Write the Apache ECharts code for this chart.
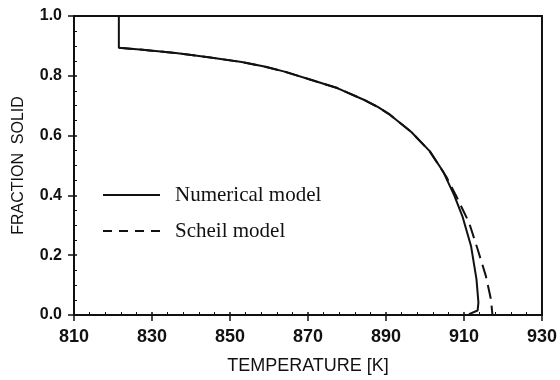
<!DOCTYPE html>
<html><head><meta charset="utf-8">
<script src="https://cdn.jsdelivr.net/npm/echarts@6/dist/echarts.min.js"></script>
<style>html,body{margin:0;padding:0;background:#fff}#c{width:560px;height:380px}</style>
</head><body><div id="c"></div>
<script>
var numT = [821.5, 821.5, 827.6, 836.1, 844.5, 853, 858.5, 864, 870.7, 877.5, 884.3, 888, 891, 896.5, 901.2, 904.6, 907.5, 909.6, 911.8, 913.2, 913.7, 913.5, 911.3];
var numF = [1.0, 0.894, 0.887, 0.876, 0.862, 0.846, 0.832, 0.814, 0.787, 0.759, 0.72, 0.695, 0.67, 0.612, 0.548, 0.481, 0.40, 0.33, 0.231, 0.12, 0.042, 0.015, 0.003];
var schT = [821.5, 827.6, 836.1, 844.5, 853, 858.5, 864, 870.7, 877.5, 884.3, 888, 891, 896.5, 901.2, 905.4, 908, 911.3, 913.5, 915.6, 916.9, 917.3];
var schF = [0.894, 0.887, 0.876, 0.862, 0.846, 0.832, 0.814, 0.787, 0.759, 0.72, 0.695, 0.67, 0.612, 0.548, 0.464, 0.398, 0.309, 0.22, 0.131, 0.053, 0.0];
var xTicks = [810, 830, 850, 870, 890, 910, 930];
var yTicks = [0.0, 0.2, 0.4, 0.6, 0.8, 1.0];
var legendNames = ['Numerical model', 'Scheil model'];

function pairs(a, b) { return a.map(function (v, i) { return [v, b[i]]; }); }

var chart = echarts.init(document.getElementById('c'));
var labelFont = {color: '#111', fontFamily: 'Liberation Sans, Arial, sans-serif', fontWeight: 'bold'};
chart.setOption({
  animation: false,
  backgroundColor: '#fff',
  grid: {left: 74, right: 13, top: 16, bottom: 64, show: true, borderColor: '#111', borderWidth: 2},
  xAxis: [{
    type: 'value', min: xTicks[0], max: xTicks[xTicks.length - 1], interval: 20,
    splitLine: {show: false},
    axisLine: {lineStyle: {color: '#111', width: 2}},
    axisTick: {show: true, inside: false, length: 6, lineStyle: {color: '#111', width: 1.5}},
    axisLabel: Object.assign({fontSize: 18, margin: 13, formatter: function (v) { return xTicks.indexOf(v) >= 0 ? String(v) : ''; }}, labelFont),
    name: 'TEMPERATURE [K]', nameLocation: 'middle', nameGap: 42,
    nameTextStyle: {fontSize: 18, color: '#111', fontFamily: 'Liberation Sans, Arial, sans-serif'}
  }, {
    type: 'value', position: 'bottom', min: xTicks[0], max: xTicks[xTicks.length - 1], interval: 20,
    splitLine: {show: false}, axisLine: {show: false}, axisLabel: {show: false},
    axisTick: {show: true, inside: true, length: 3, lineStyle: {color: '#111', width: 1.5}},
    minorTick: {show: true, splitNumber: 5, length: 3, lineStyle: {color: '#111', width: 1}}
  }],
  yAxis: [{
    type: 'value', min: 0, max: 1, interval: 0.2,
    splitLine: {show: false},
    axisLine: {lineStyle: {color: '#111', width: 2}},
    axisTick: {show: true, inside: false, length: 6, lineStyle: {color: '#111', width: 1.5}},
    axisLabel: Object.assign({fontSize: 16, margin: 12, formatter: function (v) { return v.toFixed(1); }}, labelFont),
    name: 'FRACTION  SOLID', nameLocation: 'middle', nameGap: 47,
    nameTextStyle: {fontSize: 16, color: '#111', fontFamily: 'Liberation Sans, Arial, sans-serif'}
  }, {
    type: 'value', position: 'left', min: 0, max: 1, interval: 0.2,
    splitLine: {show: false}, axisLine: {show: false}, axisLabel: {show: false},
    axisTick: {show: true, inside: true, length: 3, lineStyle: {color: '#111', width: 1.5}},
    minorTick: {show: true, splitNumber: 4, length: 3, lineStyle: {color: '#111', width: 1}}
  }],
  series: [{
    name: legendNames[1], type: 'line', data: pairs(schT, schF), showSymbol: false, symbol: 'none',
    smooth: false, lineStyle: {color: '#111', width: 2, type: [14, 7]}
  }, {
    name: legendNames[0], type: 'line', data: pairs(numT, numF), showSymbol: false, symbol: 'none',
    smooth: false, lineStyle: {color: '#111', width: 2}
  }],
  graphic: [
    {type: 'line', shape: {x1: 103, y1: 195, x2: 160, y2: 195}, style: {stroke: '#111', lineWidth: 2}},
    {type: 'text', x: 175, y: 195, style: {text: legendNames[0], font: '21px "Liberation Serif", "Times New Roman", serif', fill: '#111', verticalAlign: 'middle'}},
    {type: 'line', shape: {x1: 103, y1: 231, x2: 160, y2: 231}, style: {stroke: '#111', lineWidth: 2, lineDash: [9, 7]}},
    {type: 'text', x: 175, y: 231, style: {text: legendNames[1], font: '21px "Liberation Serif", "Times New Roman", serif', fill: '#111', verticalAlign: 'middle'}}
  ]
});
</script></body></html>
